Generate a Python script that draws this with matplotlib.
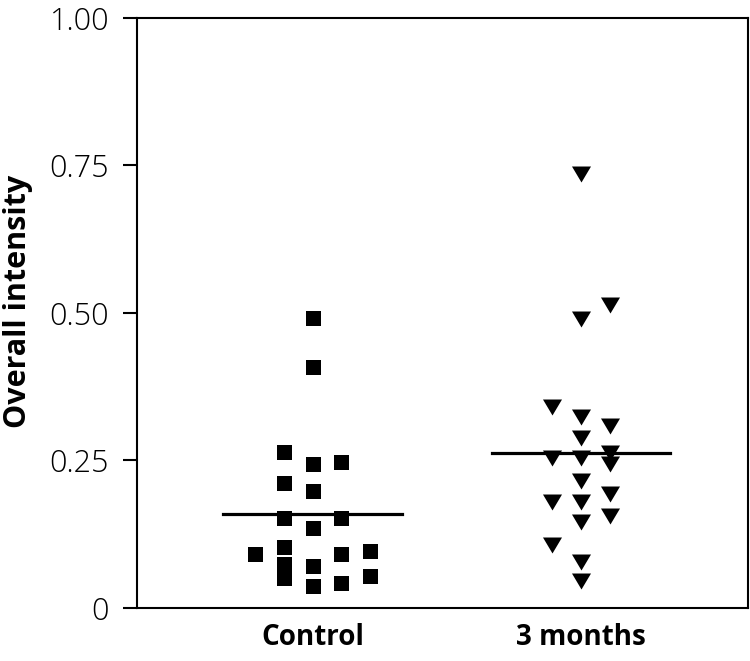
import numpy as np
import matplotlib
matplotlib.use('Agg')
import matplotlib.pyplot as plt

# group labels
groups = ['Control', '3 months']

# values, with the swarm column of each point (-2..2)
control_vals = [0.492, 0.408, 0.264, 0.212, 0.153, 0.103, 0.075, 0.050,
                0.244, 0.198, 0.135, 0.071, 0.037,
                0.247, 0.153, 0.0915, 0.042,
                0.0915, 0.097, 0.055]
control_cols = [0, 0, -1, -1, -1, -1, -1, -1,
                0, 0, 0, 0, 0,
                1, 1, 1, 1,
                -2, 2, 2]
months_vals = [0.736, 0.489, 0.323, 0.288, 0.254, 0.215, 0.180, 0.146, 0.078, 0.045,
               0.341, 0.254, 0.180, 0.106,
               0.514, 0.308, 0.262, 0.244, 0.194, 0.156]
months_cols = [0, 0, 0, 0, 0, 0, 0, 0, 0, 0,
               -1, -1, -1, -1,
               1, 1, 1, 1, 1, 1]
medians = [0.160, 0.263]

plt.rcParams['font.family'] = ['Open Sans', 'DejaVu Sans']

fig = plt.figure(figsize=(7.5, 6.61), dpi=100)
ax = fig.add_axes([0.1827, 0.0802, 0.8146, 0.8926])

col_w = 0.107
tri = [(-1, 0.84), (1, 0.84), (0, -0.84)]

x0 = 1 + col_w * np.array(control_cols)
ax.scatter(x0, control_vals, marker='s', s=10.8 ** 2, color='black', linewidths=0, zorder=3)
x1 = 2 + col_w * np.array(months_cols)
ax.scatter(x1, months_vals, marker=tri, s=13.7 ** 2, color='black', linewidths=0, zorder=3)

for i, m in enumerate(medians):
    ax.plot([i + 1 - 0.333, i + 1 + 0.333], [m, m], color='black', lw=2.3, zorder=4)

ax.set_xlim(0.346, 2.622)
ax.set_ylim(0, 1.0)
ax.set_xticks([1, 2])
ax.set_xticklabels(groups, fontsize=20, fontweight='bold')
ax.set_yticks([0, 0.25, 0.5, 0.75, 1.0])
ax.set_yticklabels(['0', '0.25', '0.50', '0.75', '1.00'], fontsize=22, fontweight='light')
ax.tick_params(axis='x', length=0, pad=11)
ax.tick_params(axis='y', length=10, width=1.5, pad=10)
for sp in ax.spines.values():
    sp.set_linewidth(1.5)
ax.set_ylabel('Overall intensity', fontsize=22, fontweight='bold', labelpad=8)
ax.yaxis.set_label_coords(-0.17, 0.52)

fig.savefig('out.png', dpi=100)
